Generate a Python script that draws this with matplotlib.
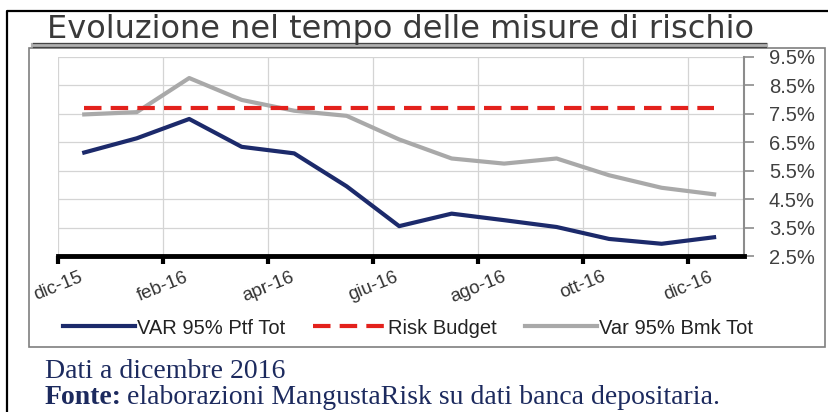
import matplotlib.pyplot as plt
import numpy as np
from matplotlib.patches import Rectangle
from matplotlib.lines import Line2D

# monthly values, dic-15 .. dic-16
months = ['dic-15', 'gen-16', 'feb-16', 'mar-16', 'apr-16', 'mag-16', 'giu-16',
          'lug-16', 'ago-16', 'set-16', 'ott-16', 'nov-16', 'dic-16']
var_ptf = [6.14, 6.64, 7.32, 6.34, 6.11, 4.95, 3.55, 3.99, 3.76, 3.52, 3.10, 2.93, 3.16]
risk_budget = [7.7, 7.7, 7.7, 7.7, 7.7, 7.7, 7.7, 7.7, 7.7, 7.7, 7.7, 7.7, 7.7]
var_bmk = [7.48, 7.56, 8.76, 7.99, 7.61, 7.43, 6.60, 5.93, 5.75, 5.93, 5.34, 4.90, 4.67]
tick_labels = ['dic-15', 'feb-16', 'apr-16', 'giu-16', 'ago-16', 'ott-16', 'dic-16']
y_ticks = [2.5, 3.5, 4.5, 5.5, 6.5, 7.5, 8.5, 9.5]

W, H = 829, 412


def fx(px):
    return px / W


def fy(py):
    return 1 - py / H


plt.rcParams['font.family'] = ['Liberation Sans', 'DejaVu Sans']

fig = plt.figure(figsize=(W / 100, H / 100), dpi=100)

# outer frame (only left and top edges are inside the picture)
fig.lines.append(Line2D([fx(7), fx(7), fx(829)], [fy(420), fy(10.5), fy(10.5)],
                        transform=fig.transFigure, color='black', linewidth=1.6))
# inner chart frame
fig.patches.append(Rectangle((fx(29), fy(347)), fx(796), fy(48) - fy(347), transform=fig.transFigure,
                             fill=False, edgecolor='#7f7f7f', linewidth=1.2))

# title with double underline
fig.text(fx(47), fy(38), 'Evoluzione nel tempo delle misure di rischio', fontsize=23,
         family='DejaVu Sans', color='#3a3a3a', va='baseline', ha='left')
fig.lines.append(Line2D([fx(33), fx(766)], [fy(44.5), fy(44.5)], transform=fig.transFigure,
                        color='#b0b0b0', linewidth=3.0))
fig.lines.append(Line2D([fx(33), fx(766)], [fy(42.5), fy(42.5)], transform=fig.transFigure,
                        color='#444444', linewidth=0.9))
fig.lines.append(Line2D([fx(33), fx(766)], [fy(46.5), fy(46.5)], transform=fig.transFigure,
                        color='#444444', linewidth=0.9))

ax = fig.add_axes([fx(58), fy(256), fx(744) - fx(58), fy(57) - fy(256)])
x = np.arange(len(months)) + 0.5

ax.plot(x, var_ptf, color='#1c2a6b', linewidth=3.0, label='VAR 95% Ptf Tot', zorder=4)
ax.plot(x, risk_budget, color='#e3211c', linewidth=3.0, linestyle=(0, (4.2, 2.2)),
        dash_capstyle='butt', label='Risk Budget', zorder=3)
ax.plot(x, var_bmk, color='#a9a9a9', linewidth=3.0, label='Var 95% Bmk Tot', zorder=2)

ax.set_xlim(0, 13.07)
ax.set_ylim(2.5, 9.5)
ax.set_xticks(np.arange(0, 13, 2))
ax.set_xticklabels(tick_labels, rotation=22, ha='center', fontsize=13.5, color='#333333')
ax.set_yticks(y_ticks)
ax.set_yticklabels(['%.1f%%' % v for v in y_ticks], fontsize=14.5, color='#404040')
ax.yaxis.tick_right()
ax.grid(True, color='#d4d4d4', linewidth=0.9)
ax.set_axisbelow(True)

for s in ['top', 'left']:
    ax.spines[s].set_visible(False)
ax.spines['right'].set_color('#8c8c8c')
ax.spines['right'].set_linewidth(1.5)
ax.spines['bottom'].set_color('black')
ax.spines['bottom'].set_linewidth(3.5)
ax.tick_params(axis='x', direction='out', length=6, width=3, color='black', pad=3)
ax.tick_params(axis='y', direction='out', length=7, width=1.2, color='#8c8c8c', pad=11)

fig.legend(loc='center', bbox_to_anchor=(fx(408), fy(328)), ncol=3, frameon=False,
           fontsize=14.5, handlelength=3.6, handletextpad=0.1, columnspacing=1.4,
           labelcolor='#222222')

# footer notes
navy = '#1c2a5e'
fig.text(fx(45), fy(378), 'Dati a dicembre 2016', fontsize=20, family='Liberation Serif',
         color=navy, va='baseline')
t = fig.text(fx(45), fy(404), 'Fonte:', fontsize=20, family='Liberation Serif',
             fontweight='bold', color=navy, va='baseline')
fig.canvas.draw()
bb = t.get_window_extent()
fig.text(bb.x1 / W + fx(5), fy(404), 'elaborazioni MangustaRisk su dati banca depositaria.',
         fontsize=20, family='Liberation Serif', color=navy, va='baseline')

fig.savefig('out.png', dpi=100)
